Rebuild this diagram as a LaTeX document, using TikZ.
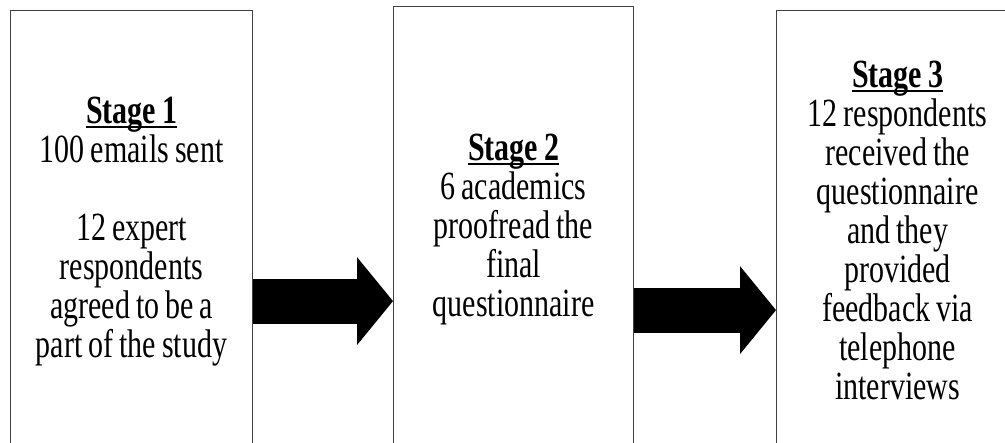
\documentclass[tikz,border=0pt]{standalone}
\usepackage{fontspec}
\setmainfont{Liberation Serif}[FakeStretch=0.75]
\usetikzlibrary{arrows.meta}
\newcommand{\stagehead}[1]{\setbox0\hbox{\textbf{#1}}\rlap{\rule[-4pt]{\wd0}{1.5pt}}\box0}

\begin{document}
\begin{tikzpicture}[x=1pt,y=-1pt,
  stagebox/.style={draw=black!75,line width=1.2pt,anchor=north west,minimum width=242pt,text width=232pt,align=center,inner sep=0pt,font=\fontsize{40}{39}\selectfont,execute at begin node={\spaceskip=6pt\relax}},
  stagearrow/.style={line width=45pt,-{Triangle[length=36pt,width=88pt,line width=0pt 0]}}]
\useasboundingbox (0,0) rectangle (1005,443);
\clip (0,0) rectangle (1005,443);
\node[stagebox,minimum height=442pt] (box1) at (10,10) {\stagehead{Stage 1}\\100 emails sent\\[39pt]12 expert\\respondents\\agreed to be a\\part of the study};
\node[stagebox,minimum height=446pt,minimum width=240pt] (box2) at (393,6) {\stagehead{Stage 2}\\6 academics\\proofread the\\final\\questionnaire};
\node[stagebox,minimum height=440pt] (box3) at (776,10) {\stagehead{Stage 3}\\12 respondents\\received the\\questionnaire\\and they\\provided\\feedback via\\telephone\\interviews};
\draw[stagearrow] ([yshift=-69.5pt]box1.east) -- ([yshift=-71.5pt]box2.west);
\draw[stagearrow] ([yshift=-80.5pt]box2.east) -- ([yshift=-79.5pt]box3.west);
\end{tikzpicture}
\end{document}
